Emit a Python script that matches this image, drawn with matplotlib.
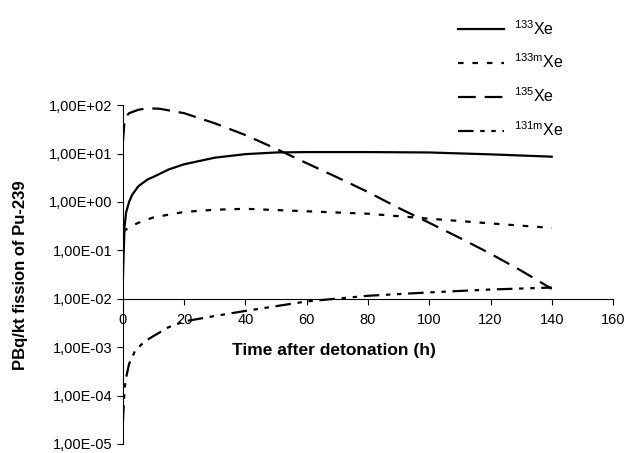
import matplotlib.pyplot as plt
from matplotlib.ticker import FuncFormatter, FixedLocator

plt.rcParams['font.family'] = ['Liberation Sans', 'DejaVu Sans']
plt.rcParams['mathtext.fontset'] = 'custom'
plt.rcParams['mathtext.rm'] = 'Liberation Sans'

# time (h) and activity (PBq/kt)
t_xe133 = [0, 0.5, 1, 2, 3, 5, 8, 10, 15, 20, 30, 40, 50, 60, 80, 100, 120, 140]
xe133 = [0.03, 0.3, 0.6, 1.0, 1.4, 2.1, 2.9, 3.3, 4.7, 6.0, 8.2, 9.7, 10.5, 10.7, 10.7, 10.5, 9.6, 8.6]

t_xe133m = [0, 2, 5, 10, 20, 30, 40, 60, 80, 100, 120, 140]
xe133m = [0.24, 0.3, 0.37, 0.48, 0.62, 0.69, 0.72, 0.64, 0.57, 0.45, 0.36, 0.29]

t_xe135 = [0, 0.5, 1, 2, 5, 8, 12, 20, 30, 40, 50, 60, 70, 80, 90, 100, 110, 120, 130, 140]
xe135 = [18, 45, 58, 68, 80, 86, 84, 68, 42, 24, 12.5, 6.3, 3.2, 1.6, 0.75, 0.37, 0.18, 0.085, 0.038, 0.016]

t_xe131m = [0, 0.5, 1, 2, 4, 7, 10, 15, 20, 30, 40, 60, 80, 100, 120, 140]
xe131m = [3e-5, 1.3e-4, 2.3e-4, 4.5e-4, 8.5e-4, 1.3e-3, 1.7e-3, 2.6e-3, 3.4e-3, 4.4e-3, 5.6e-3, 8.8e-3, 1.15e-2, 1.35e-2, 1.55e-2, 1.7e-2]

labels = [r'$^{133}$Xe', r'$^{133\mathrm{m}}$Xe', r'$^{135}$Xe', r'$^{131\mathrm{m}}$Xe']

fig = plt.figure(figsize=(6.29, 4.53), dpi=100)
ax = fig.add_axes([0.1955, 0.02, 0.7791, 0.748])

lw = 1.6
l1, = ax.plot(t_xe133, xe133, color='black', lw=lw, ls='-')
l2, = ax.plot(t_xe133m, xe133m, color='black', lw=lw, ls=(0, (2.5, 4)))
l3, = ax.plot(t_xe135, xe135, color='black', lw=lw, ls=(0, (8, 4)))
l4, = ax.plot(t_xe131m, xe131m, color='black', lw=lw, ls=(0, (7, 3, 2, 3, 2, 3)))

ax.set_yscale('log')
ax.set_ylim(1e-5, 1e2)
ax.set_xlim(0, 160)
ax.yaxis.set_major_locator(FixedLocator([1e-5, 1e-4, 1e-3, 1e-2, 1e-1, 1, 10, 100]))
ax.yaxis.set_minor_locator(FixedLocator([]))
ax.yaxis.set_major_formatter(FuncFormatter(lambda v, p: f"{v:.2E}".replace('.', ',')))
ax.set_xticks(range(0, 161, 20))

ax.spines['top'].set_visible(False)
ax.spines['right'].set_visible(False)
ax.spines['bottom'].set_position(('data', 1e-2))
ax.tick_params(axis='both', direction='out', length=4, width=0.8, labelsize=10.5)
ax.tick_params(axis='x', pad=6)

ax.text(0.43, 0.275, 'Time after detonation (h)', transform=ax.transAxes,
        ha='center', va='center', fontsize=12.5, fontweight='bold')
fig.text(0.032, 0.393, 'PBq/kt fission of Pu-239', rotation=90, ha='center',
         va='center', fontsize=12, fontweight='bold')

fig.legend([l1, l2, l3, l4], labels, loc='upper left', bbox_to_anchor=(0.705, 0.99),
           frameon=False, fontsize=11.5, handlelength=2.9, labelspacing=0.95,
           handletextpad=0.6)

plt.savefig('out.png', dpi=100)
